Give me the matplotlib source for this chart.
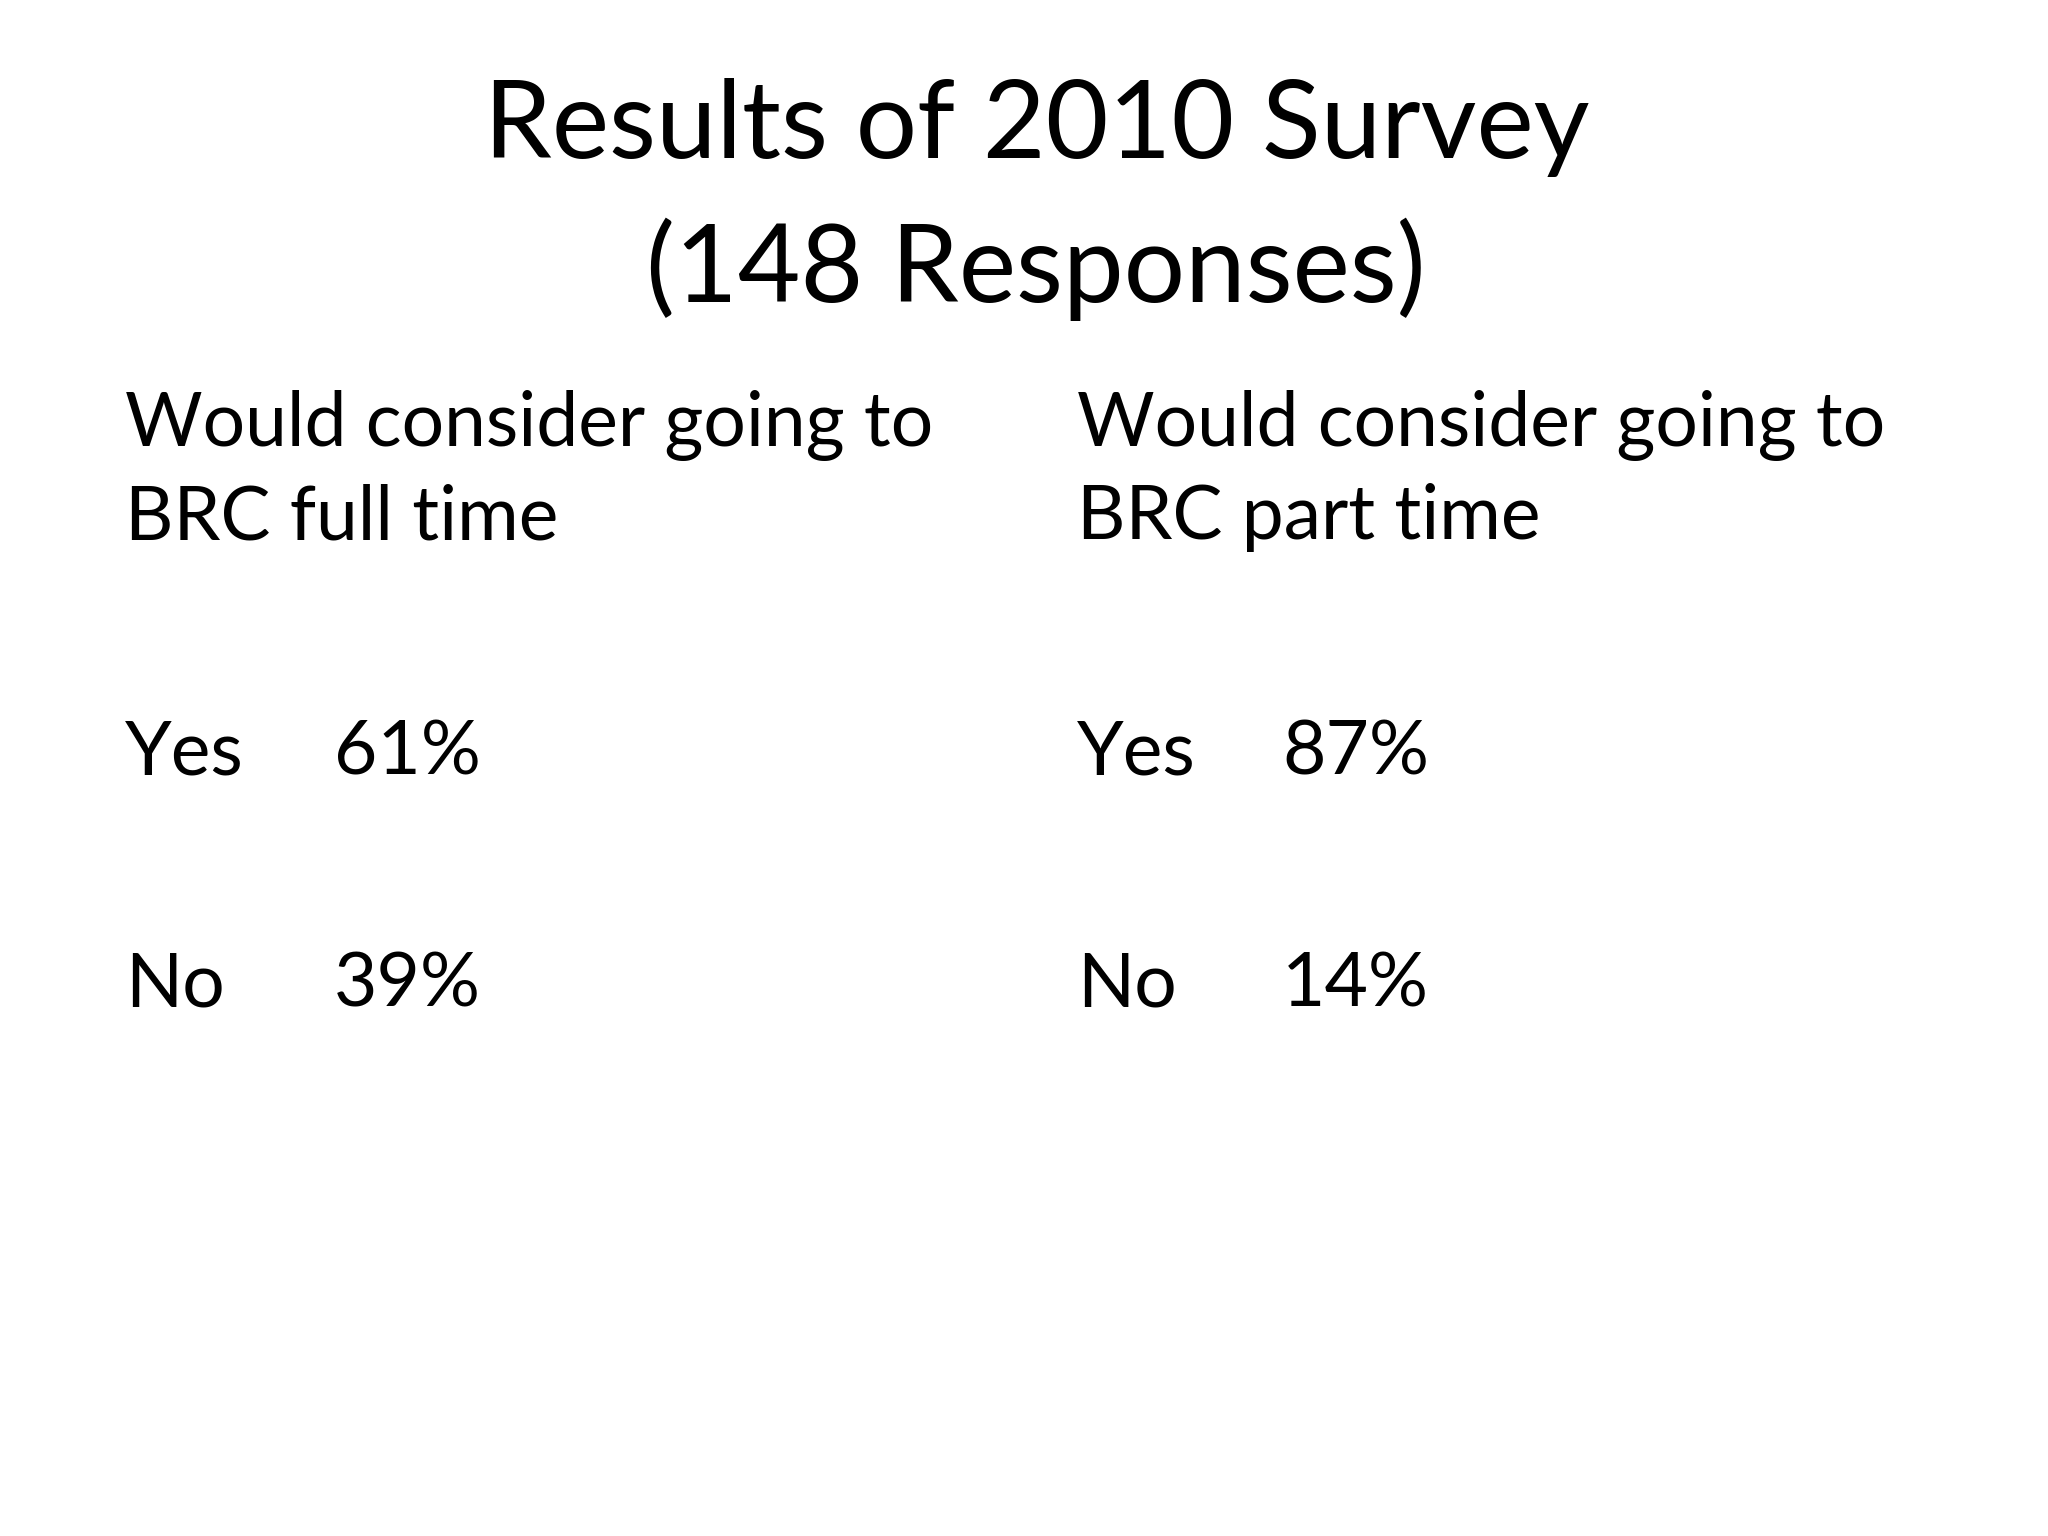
import matplotlib.pyplot as plt

title_lines = ["Results of 2010 Survey", "(148 Responses)"]
questions = ["Would consider going to\nBRC full time", "Would consider going to\nBRC part time"]
answers = ["Yes", "No"]
percents = [[61, 39], [87, 14]]

plt.rcParams['font.family'] = ['Lato', 'DejaVu Sans']

fig = plt.figure(figsize=(20.48, 15.36), dpi=100)
fig.patch.set_facecolor('white')

fig.text(0.506, 0.083, title_lines[0], ha='center', va='center', fontsize=78)
fig.text(0.506, 0.175, title_lines[1], ha='center', va='center', fontsize=78)

col_x = [0.061, 0.526]
pct_x = [0.163, 0.626]
row_y = [0.49, 0.641]
for i, q in enumerate(questions):
    for j, line in enumerate(q.split("\n")):
        fig.text(col_x[i], [0.277, 0.337][j], line, ha='left', va='center', fontsize=54)
    for k, ans in enumerate(answers):
        fig.text(col_x[i], row_y[k], ans, ha='left', va='center', fontsize=54)
        fig.text(pct_x[i], row_y[k], f"{percents[i][k]}%", ha='left', va='center', fontsize=54)

# fig.text uses bottom-origin; flip y
for t in fig.texts:
    x, y = t.get_position()
    t.set_position((x, 1 - y))

fig.savefig('out.png', dpi=100)
